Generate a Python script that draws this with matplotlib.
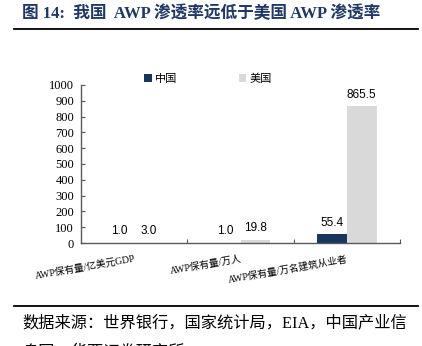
import matplotlib
matplotlib.use("Agg")
import matplotlib.pyplot as plt
from matplotlib.lines import Line2D
import numpy as np

plt.rcParams['font.family'] = ['Liberation Serif', 'Noto Sans CJK SC', 'DejaVu Sans']

categories = ['AWP保有量/亿美元GDP', 'AWP保有量/万人', 'AWP保有量/万名建筑从业者']
china = [1.0, 1.0, 55.4]
usa = [3.0, 19.8, 865.5]
series_names = ['中国', '美国']
colors = ['#17375E', '#D9D9D9']
title = '图 14:  我国  AWP 渗透率远低于美国 AWP 渗透率'
source_1 = '数据来源：世界银行，国家统计局，EIA，中国产业信'
source_2 = '息网，华西证券研究所'

W, H = 422, 346
fig = plt.figure(figsize=(W / 100, H / 100), dpi=100)
ax = fig.add_axes([81 / W, 1 - 243 / H, 319 / W, 158 / H])

x = np.arange(len(categories))
w = 0.28
b1 = ax.bar(x - w / 2, china, w, color=colors[0], label=series_names[0])
b2 = ax.bar(x + w / 2, usa, w, color=colors[1], label=series_names[1])

for bars, vals in ((b1, china), (b2, usa)):
    for r, v in zip(bars, vals):
        ax.annotate(f'{v:.1f}', (r.get_x() + r.get_width() / 2, v),
                    xytext=(0, 4), textcoords='offset points',
                    ha='center', va='bottom', fontsize=8.5,
                    family='Liberation Sans', color='#000000')

ax.set_xlim(-0.5, 2.5)
ax.set_ylim(0, 1000)
ax.set_yticks(np.arange(0, 1001, 100))
ax.tick_params(axis='y', direction='in', length=3, labelsize=9, color='#595959', pad=5)
ax.set_xticks([0.5, 1.5, 2.5])
ax.set_xticklabels([])
ax.tick_params(axis='x', direction='in', length=3, color='#595959')
for s in ('top', 'right'):
    ax.spines[s].set_visible(False)
for s in ('left', 'bottom'):
    ax.spines[s].set_color('#595959')
    ax.spines[s].set_linewidth(1.0)

for xi, lab in zip(x, categories):
    ax.text(xi, -70, lab, rotation=10, rotation_mode='anchor', ha='right', va='top',
            fontsize=7, transform=ax.transData)

ax.legend(loc='center', bbox_to_anchor=(0.398, 1.038), ncol=2, frameon=False,
          handlelength=0.7, handleheight=0.7, handletextpad=0.3,
          columnspacing=5.5, fontsize=8, borderpad=0)

fig.text(22 / W, 1 - 14 / H, title, fontsize=12, fontweight='bold', color='#1F3864',
         va='center', ha='left', family=['Liberation Serif', 'Noto Sans CJK SC'])
fig.add_artist(Line2D([14 / W, 418 / W], [1 - 29 / H, 1 - 29 / H], color='black', lw=1.3))
fig.add_artist(Line2D([14 / W, 418 / W], [1 - 306 / H, 1 - 306 / H], color='black', lw=1.3))
fig.text(22 / W, 1 - 323 / H, source_1, fontsize=11.7, va='center', ha='left',
         family=['Liberation Serif', 'Noto Sans CJK SC'])
# second line is cut by the bottom edge, as in the original page crop
fig.text(22 / W, 1 - 353 / H, source_2, fontsize=11.7, va='center', ha='left',
         family=['Liberation Serif', 'Noto Sans CJK SC'])

fig.savefig('out.png', dpi=100)
